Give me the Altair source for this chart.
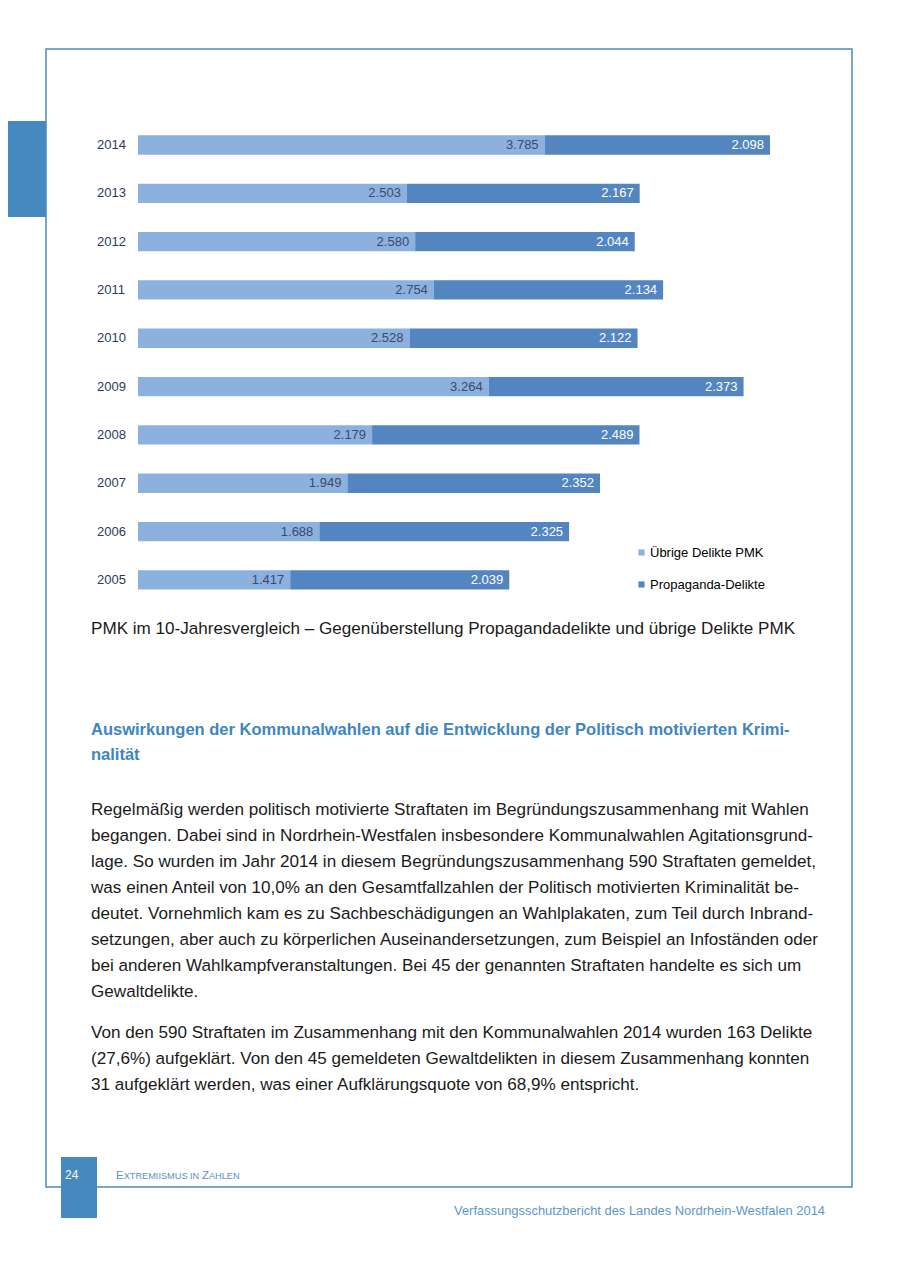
import altair as alt
import pandas as pd

# ---------------- data ----------------
years = ["2014", "2013", "2012", "2011", "2010", "2009", "2008", "2007", "2006", "2005"]
uebrige = [3785, 2503, 2580, 2754, 2528, 3264, 2179, 1949, 1688, 1417]
propaganda = [2098, 2167, 2044, 2134, 2122, 2373, 2489, 2352, 2325, 2039]
series = ["Übrige Delikte PMK", "Propaganda-Delikte"]
colors = ["#8db1df", "#5385c1"]

caption = "PMK im 10-Jahresvergleich – Gegenüberstellung Propagandadelikte und übrige Delikte PMK"
heading_lines = [
    "Auswirkungen der Kommunalwahlen auf die Entwicklung der Politisch motivierten Krimi-",
    "nalität",
]
para1_lines = [
    "Regelmäßig werden politisch motivierte Straftaten im Begründungszusammenhang mit Wahlen",
    "begangen. Dabei sind in Nordrhein-Westfalen insbesondere Kommunalwahlen Agitationsgrund-",
    "lage. So wurden im Jahr 2014 in diesem Begründungszusammenhang 590 Straftaten gemeldet,",
    "was einen Anteil von 10,0% an den Gesamtfallzahlen der Politisch motivierten Kriminalität be-",
    "deutet. Vornehmlich kam es zu Sachbeschädigungen an Wahlplakaten, zum Teil durch Inbrand-",
    "setzungen, aber auch zu körperlichen Auseinandersetzungen, zum Beispiel an Infoständen oder",
    "bei anderen Wahlkampfveranstaltungen. Bei 45 der genannten Straftaten handelte es sich um",
    "Gewaltdelikte.",
]
para2_lines = [
    "Von den 590 Straftaten im Zusammenhang mit den Kommunalwahlen 2014 wurden 163 Delikte",
    "(27,6%) aufgeklärt. Von den 45 gemeldeten Gewaltdelikten in diesem Zusammenhang konnten",
    "31 aufgeklärt werden, was einer Aufklärungsquote von 68,9% entspricht.",
]
page_number = "24"
running_head = ["E", "XTREMIISMUS IN ", "Z", "AHLEN"]
footer = "Verfassungsschutzbericht des Landes Nordrhein-Westfalen 2014"

# ---------------- table ----------------
def de(n):
    return f"{n:,}".replace(",", ".")

rows = []
for y, u, p in zip(years, uebrige, propaganda):
    rows.append({"year": y, "series": series[0], "start": 0, "end": u, "label": de(u)})
    rows.append({"year": y, "series": series[1], "start": u, "end": u + p, "label": de(p)})
df = pd.DataFrame(rows)
xmax = max(u + p for u, p in zip(uebrige, propaganda))

FONT = "Liberation Sans"
BLUE = "#4689be"
M = 8  # page margin


def c(v):
    return v - M


xscale = alt.Scale(domain=[0, xmax], range=[c(138), c(770)], nice=False, zero=True)
yscale = alt.Scale(domain=years, range=[c(120.8), c(604.1)], paddingInner=0.6, paddingOuter=0.3)

base = alt.Chart(df)

bars = base.mark_bar(cornerRadius=0).encode(
    x=alt.X("start:Q", scale=xscale, axis=None),
    x2="end:Q",
    y=alt.Y("year:N", scale=yscale, axis=None),
    color=alt.Color(
        "series:N",
        scale=alt.Scale(domain=series, range=colors),
        legend=alt.Legend(
            orient="none",
            legendX=c(635),
            legendY=c(546),
            title=None,
            symbolType="square",
            symbolSize=38,
            symbolStrokeWidth=0,
            labelFontSize=13,
            labelFont=FONT,
            labelColor="#000000",
            labelOffset=2,
            rowPadding=18,
            padding=0,
        ),
    ),
)

lab_light = base.transform_filter(alt.datum.series == series[0]).mark_text(
    align="right", baseline="middle", dx=-6, fontSize=13, font=FONT, color="#3a4a6c"
).encode(
    x=alt.X("end:Q", scale=xscale, axis=None),
    y=alt.Y("year:N", scale=yscale, axis=None),
    text="label:N",
)
lab_dark = base.transform_filter(alt.datum.series == series[1]).mark_text(
    align="right", baseline="middle", dx=-6, fontSize=13, font=FONT, color="#ffffff"
).encode(
    x=alt.X("end:Q", scale=xscale, axis=None),
    y=alt.Y("year:N", scale=yscale, axis=None),
    text="label:N",
)
year_labels = base.transform_filter(alt.datum.series == series[0]).mark_text(
    align="left", baseline="middle", fontSize=13, font=FONT, color="#2c3a62"
).encode(
    x=alt.value(c(97)),
    y=alt.Y("year:N", scale=yscale, axis=None),
    text="year:N",
)

one = alt.Data(values=[{"k": 0}])

frame = alt.Chart(one).mark_rect(fillOpacity=0, stroke="#4a8cbf", strokeWidth=1.5).encode(
    x=alt.value(c(46)), x2=alt.value(c(852)), y=alt.value(c(49)), y2=alt.value(c(1187))
)
tab = alt.Chart(one).mark_rect(color=BLUE).encode(
    x=alt.value(0), x2=alt.value(c(46)), y=alt.value(c(121)), y2=alt.value(c(217))
)
numbox = alt.Chart(one).mark_rect(color=BLUE).encode(
    x=alt.value(c(61)), x2=alt.value(c(97)), y=alt.value(c(1157)), y2=alt.value(c(1218))
)


def txt(text, x, y, size, color, weight="normal", align="left", baseline="middle", lh=None):
    kw = dict(align=align, baseline=baseline, fontSize=size, font=FONT, color=color, fontWeight=weight)
    if lh is not None:
        kw["lineHeight"] = lh
    return alt.Chart(one).mark_text(**kw).encode(
        x=alt.value(c(x)), y=alt.value(c(y)), text=alt.value(text)
    )


cap = txt(caption, 91, 628.5, 17.1, "#1a1a1a")
head = txt(heading_lines, 91, 729 - 7, 16.5, "#3d86bf", weight="bold", baseline="top", lh=25)
p1 = txt(para1_lines, 91, 808 - 7, 17.1, "#1a1a1a", baseline="top", lh=26)
p2 = txt(para2_lines, 91, 1031 - 7, 17.1, "#1a1a1a", baseline="top", lh=26)
pnum = txt(page_number, 65, 1175, 12, "#ffffff")
rh_color = "#5a8fc4"
rh1 = txt(running_head[0], 116, 1179, 11.5, rh_color, baseline="alphabetic")
rh2 = txt(running_head[1], 123.7, 1179, 9.2, rh_color, baseline="alphabetic")
rh3 = txt(running_head[2], 201.9, 1179, 11.5, rh_color, baseline="alphabetic")
rh4 = txt(running_head[3], 208.9, 1179, 9.2, rh_color, baseline="alphabetic")
foot = txt(footer, 825, 1211, 12.9, "#5a97cd", align="right")

chart = alt.layer(
    frame, tab, bars, lab_light, lab_dark, year_labels,
    cap, head, p1, p2, numbox, pnum, rh1, rh2, rh3, rh4, foot,
).properties(
    width=884, height=1260, padding=0, autosize=alt.AutoSizeParams(type="none"),
    background="#ffffff",
).configure_view(strokeWidth=0)

chart.save("out.html", embed_options={"renderer": "svg", "actions": False})
